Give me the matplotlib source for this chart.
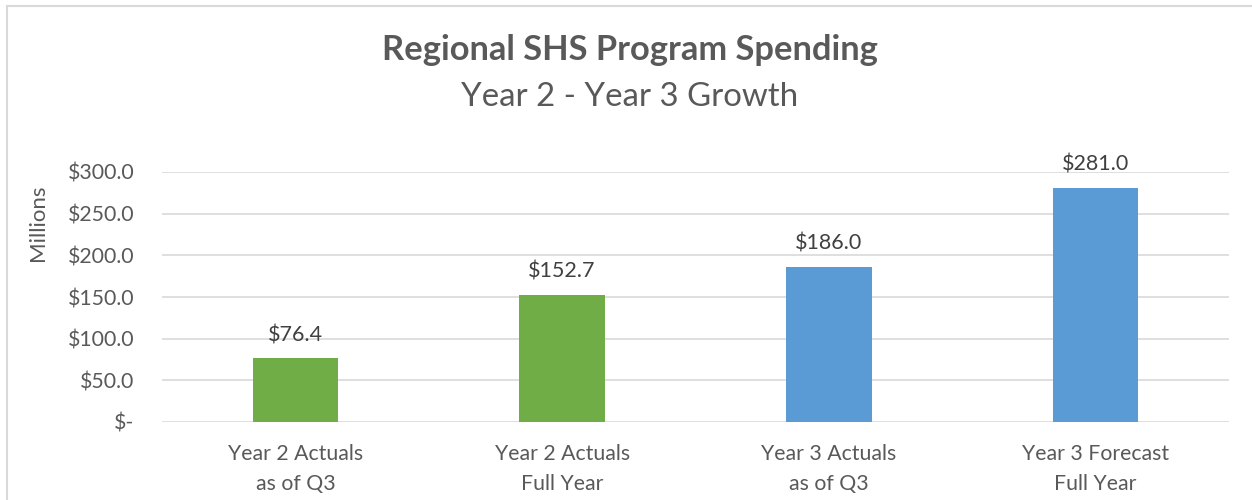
import matplotlib.pyplot as plt
from matplotlib.lines import Line2D

categories = ['Year 2 Actuals\nas of Q3', 'Year 2 Actuals\nFull Year',
              'Year 3 Actuals\nas of Q3', 'Year 3 Forecast\nFull Year']
values = [76.4, 152.7, 186.0, 281.0]
colors = ['#70AD47', '#70AD47', '#5B9BD5', '#5B9BD5']
yticks = [0, 50, 100, 150, 200, 250, 300]
ytick_labels = ['$-', '$50.0', '$100.0', '$150.0', '$200.0', '$250.0', '$300.0']

plt.rcParams['font.family'] = ['Lato', 'DejaVu Sans']
grey = '#595959'

fig = plt.figure(figsize=(12.52, 5), dpi=100)
ax = fig.add_axes([162 / 1252, 1 - 422 / 500, (1229 - 162) / 1252, 250 / 500])

x = list(range(len(categories)))
ax.bar(x, values, width=0.32, color=colors, zorder=3)
for xi, v in zip(x, values):
    ax.text(xi, v + 16, '${:.1f}'.format(v), ha='center', va='bottom',
            fontsize=15.5, color='#404040', clip_on=False)

ax.set_xlim(-0.5, 3.5)
ax.set_ylim(0, 300)
ax.set_yticks(yticks)
ax.set_yticklabels(ytick_labels)
ax.set_xticks(x)
ax.set_xticklabels(categories, linespacing=1.6)
ax.tick_params(axis='both', length=0, labelsize=15.3, labelcolor=grey)
ax.tick_params(axis='y', pad=20)
ax.tick_params(axis='x', pad=16)
ax.grid(axis='y', color='#D9D9D9', linewidth=1.2, zorder=0)
for s in ax.spines.values():
    s.set_visible(False)

fig.text(38 / 1252, 1 - 223 / 500, 'Millions', rotation=90, ha='center', va='center',
         fontsize=16, color=grey)

fig.text(0.503, 1 - 50 / 500, 'Regional SHS Program Spending', ha='center', va='center',
         fontsize=24.8, fontweight='bold', color=grey)
fig.text(0.503, 1 - 97 / 500, 'Year 2 - Year 3 Growth', ha='center', va='center',
         fontsize=23.8, color=grey)

# chart frame (cropped on right and bottom)
fig.add_artist(Line2D([7 / 1252, 7 / 1252], [0, 1 - 6 / 500], color='#D9D9D9', linewidth=1.5))
fig.add_artist(Line2D([7 / 1252, 1], [1 - 6 / 500, 1 - 6 / 500], color='#D9D9D9', linewidth=1.5))

fig.savefig('out.png', dpi=100)
